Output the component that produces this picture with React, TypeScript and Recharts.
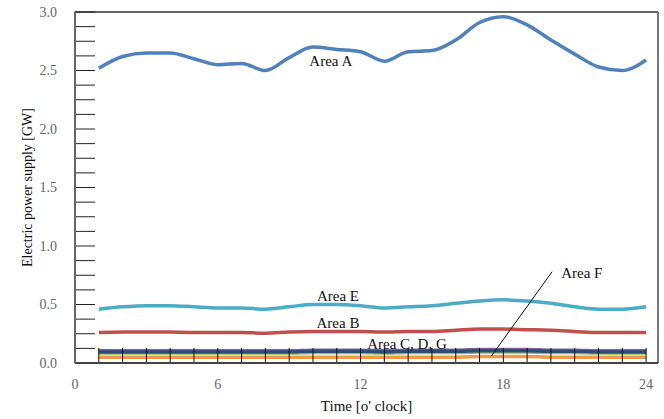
import { LineChart, Line, XAxis, YAxis, ReferenceLine, Label } from 'recharts'

const hours = [1, 2, 3, 4, 5, 6, 7, 8, 9, 10, 11, 12, 13, 14, 15, 16, 17, 18, 19, 20, 21, 22, 23, 24]

const areaA = [2.52, 2.62, 2.65, 2.65, 2.6, 2.55, 2.56, 2.5, 2.61, 2.7, 2.68, 2.66, 2.58, 2.66, 2.67, 2.76, 2.91, 2.96, 2.89, 2.76, 2.64, 2.53, 2.5, 2.59]
const areaE = [0.46, 0.48, 0.49, 0.49, 0.48, 0.47, 0.47, 0.46, 0.48, 0.5, 0.5, 0.49, 0.47, 0.48, 0.49, 0.51, 0.53, 0.54, 0.53, 0.51, 0.48, 0.46, 0.46, 0.48]
const areaB = [0.26, 0.265, 0.265, 0.265, 0.26, 0.26, 0.26, 0.255, 0.265, 0.27, 0.27, 0.27, 0.265, 0.27, 0.27, 0.28, 0.29, 0.29, 0.285, 0.28, 0.27, 0.26, 0.26, 0.26]
const areaC = [0.085, 0.085, 0.085, 0.085, 0.085, 0.085, 0.085, 0.085, 0.085, 0.09, 0.09, 0.09, 0.085, 0.09, 0.09, 0.09, 0.095, 0.095, 0.095, 0.09, 0.09, 0.085, 0.085, 0.085]
const areaD = [0.105, 0.105, 0.105, 0.105, 0.105, 0.105, 0.105, 0.105, 0.105, 0.11, 0.11, 0.11, 0.105, 0.11, 0.11, 0.11, 0.115, 0.115, 0.115, 0.11, 0.11, 0.105, 0.105, 0.105]
const areaG = [0.095, 0.095, 0.095, 0.095, 0.095, 0.095, 0.095, 0.095, 0.095, 0.1, 0.1, 0.1, 0.095, 0.1, 0.1, 0.1, 0.105, 0.105, 0.105, 0.1, 0.1, 0.095, 0.095, 0.095]
const areaF = [0.05, 0.05, 0.05, 0.05, 0.05, 0.05, 0.05, 0.05, 0.05, 0.05, 0.05, 0.05, 0.05, 0.05, 0.05, 0.05, 0.055, 0.055, 0.055, 0.05, 0.05, 0.05, 0.05, 0.05]

const xTicks = [0, 6, 12, 18, 24]
const yTicks = [0, 0.125, 0.25, 0.375, 0.5, 0.625, 0.75, 0.875, 1, 1.125, 1.25, 1.375, 1.5, 1.625, 1.75, 1.875, 2, 2.125, 2.25, 2.375, 2.5, 2.625, 2.75, 2.875, 3]

const data = hours.map((h, i) => ({
  hour: h,
  A: areaA[i],
  B: areaB[i],
  C: areaC[i],
  D: areaD[i],
  E: areaE[i],
  F: areaF[i],
  G: areaG[i],
}))

const FONT = '"Liberation Serif", "Times New Roman", serif'
const TICK_STYLE = { fontSize: 14, fill: '#666', fontFamily: FONT }

function AreaLabel({ viewBox, text }: any) {
  if (!viewBox) return null
  return (
    <text x={viewBox.x} y={viewBox.y} fontSize={15} fontFamily={FONT} fill="#111" textAnchor="middle" dominantBaseline="central">
      {text}
    </text>
  )
}

export default function App() {
  return (
    <div style={{ position: 'fixed', left: 0, top: 0, background: '#fff' }}>
      <LineChart width={664} height={419} data={data} margin={{ top: 12, right: 6, left: 0, bottom: 0 }}>
        <XAxis
          dataKey="hour"
          type="number"
          domain={[0, 24.5]}
          ticks={xTicks}
          tick={TICK_STYLE}
          tickLine={false}
          tickMargin={10}
          axisLine={{ stroke: '#444', strokeWidth: 2 }}
          height={56}
          allowDataOverflow
        >
          <Label value="Time [o' clock]" position="insideBottom" offset={8} style={{ fontSize: 15, fill: '#111', fontFamily: FONT }} />
        </XAxis>
        <YAxis
          type="number"
          domain={[0, 3]}
          ticks={yTicks}
          interval={0}
          tick={TICK_STYLE}
          tickFormatter={(v: number) => (v % 0.5 === 0 ? v.toFixed(1) : '')}
          tickLine={false}
          tickMargin={12}
          axisLine={{ stroke: '#666', strokeWidth: 2 }}
          width={75}
        >
          <Label value="Electric power supply [GW]" angle={-90} position="insideLeft" offset={27} style={{ fontSize: 14, fill: '#111', fontFamily: FONT, textAnchor: 'middle' }} />
        </YAxis>

        <ReferenceLine y={3} stroke="#333" strokeWidth={1.5} />
        <ReferenceLine x={24.5} stroke="#777" strokeWidth={2} />

        {yTicks.slice(1).map((v) => (
          <ReferenceLine key={'y' + v} segment={[{ x: 0, y: v }, { x: 0.84, y: v }]} stroke="#222" strokeWidth={1} />
        ))}

        <Line dataKey="A" type="monotone" stroke="#4F81BD" strokeWidth={3.5} dot={false} isAnimationActive={false} />
        <Line dataKey="E" type="monotone" stroke="#4BACC6" strokeWidth={3.5} dot={false} isAnimationActive={false} />
        <Line dataKey="B" type="monotone" stroke="#C0504D" strokeWidth={3.5} dot={false} isAnimationActive={false} />
        <Line dataKey="D" type="monotone" stroke="#8064A2" strokeWidth={3.5} dot={false} isAnimationActive={false} />
        <Line dataKey="C" type="monotone" stroke="#9BBB59" strokeWidth={3.5} dot={false} isAnimationActive={false} />
        <Line dataKey="G" type="monotone" stroke="#2C4D75" strokeWidth={3.5} dot={false} isAnimationActive={false} />
        <Line dataKey="F" type="monotone" stroke="#F79646" strokeWidth={3.5} dot={false} isAnimationActive={false} />

        {hours.map((h) => (
          <ReferenceLine key={'x' + h} segment={[{ x: h, y: 0 }, { x: h, y: 0.128 }]} stroke="#111" strokeWidth={1} />
        ))}

        <ReferenceLine segment={[{ x: 17.5, y: 0.06 }, { x: 20.05, y: 0.78 }]} stroke="#111" strokeWidth={1} />

        <ReferenceLine segment={[{ x: 10.75, y: 2.58 }, { x: 10.75, y: 2.58 }]} stroke="none" label={<AreaLabel text="Area A" />} />
        <ReferenceLine segment={[{ x: 11.05, y: 0.57 }, { x: 11.05, y: 0.57 }]} stroke="none" label={<AreaLabel text="Area E" />} />
        <ReferenceLine segment={[{ x: 11.05, y: 0.34 }, { x: 11.05, y: 0.34 }]} stroke="none" label={<AreaLabel text="Area B" />} />
        <ReferenceLine segment={[{ x: 13.95, y: 0.16 }, { x: 13.95, y: 0.16 }]} stroke="none" label={<AreaLabel text="Area C, D, G" />} />
        <ReferenceLine segment={[{ x: 21.3, y: 0.77 }, { x: 21.3, y: 0.77 }]} stroke="none" label={<AreaLabel text="Area F" />} />
      </LineChart>
    </div>
  )
}
